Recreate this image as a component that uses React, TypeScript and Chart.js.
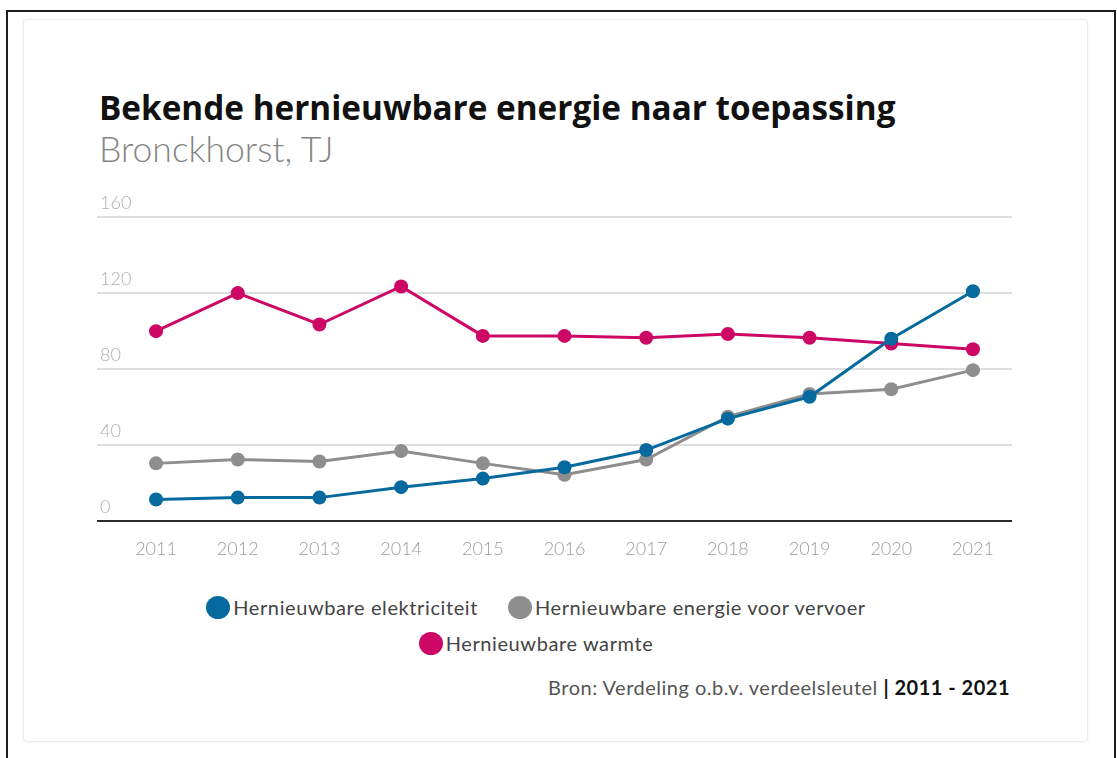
import React, { useEffect, useRef } from "react";
import { Chart, registerables } from "chart.js";

Chart.register(...registerables);

const years = [2011, 2012, 2013, 2014, 2015, 2016, 2017, 2018, 2019, 2020, 2021];
const elektriciteit = [11.5, 12.5, 12.5, 18, 22.5, 28.5, 37.5, 54, 65.5, 96, 121];
const vervoer = [30.5, 32.5, 31.5, 37, 30.5, 24.5, 32.5, 55, 67, 69.5, 79.5];
const warmte = [100, 120, 103.5, 123.5, 97.5, 97.5, 96.5, 98.5, 96.5, 93.5, 90.5];
const yTicks = [0, 40, 80, 120, 160];

const seriesNames = [
  "Hernieuwbare elektriciteit",
  "Hernieuwbare energie voor vervoer",
  "Hernieuwbare warmte",
];
const seriesColors = ["#066a9f", "#8e8e8e", "#cd0766"];

const FONT = "Lato, 'Liberation Sans', sans-serif";

export default function App() {
  const ref = useRef<HTMLCanvasElement | null>(null);

  useEffect(() => {
    document.documentElement.style.overflow = "hidden";
    document.body.style.overflow = "hidden";
    if (!ref.current) return;
    const seriesData = [elektriciteit, vervoer, warmte];
    const chart = new Chart(ref.current, {
      type: "line",
      data: {
        datasets: seriesData.map((vals, i) => ({
          label: seriesNames[i],
          data: vals.map((v, j) => ({ x: years[j], y: v })),
          borderColor: seriesColors[i],
          backgroundColor: seriesColors[i],
          pointBackgroundColor: seriesColors[i],
          pointBorderWidth: 0,
          pointRadius: 7,
          borderWidth: 3,
          tension: 0,
          order: i,
        })),
      },
      options: {
        animation: false,
        responsive: false,
        maintainAspectRatio: false,
        layout: { padding: { left: 1, right: 13, top: 37, bottom: 3 } },
        plugins: {
          legend: { display: false },
          tooltip: { enabled: false },
          title: { display: false },
        },
        scales: {
          x: {
            type: "linear",
            min: 2010.277,
            max: 2021.478,
            afterBuildTicks: (axis: any) => {
              axis.ticks = years.map((v) => ({ value: v }));
            },
            grid: { display: false, drawTicks: false },
            border: { display: false },
            ticks: {
              padding: 17,
              color: "#9c9c9c",
              font: { family: FONT, size: 18, weight: 300 as any },
              callback: (v: any) => String(v),
              maxRotation: 0,
              autoSkip: false,
            },
          },
          y: {
            min: 0,
            max: 160,
            afterBuildTicks: (axis: any) => {
              axis.ticks = yTicks.map((v) => ({ value: v }));
            },
            grid: {
              drawTicks: false,
              color: (c: any) => (c.tick && c.tick.value === 0 ? "#2b2b2b" : "#dedede"),
              lineWidth: 2,
            },
            border: { display: false },
            ticks: {
              mirror: true,
              padding: 3,
              labelOffset: -14,
              color: "#b0b0b0",
              font: { family: FONT, size: 18, weight: 300 as any },
            },
          },
        },
      },
    });
    return () => chart.destroy();
  }, []);

  const legendItem = (i: number) => (
    <div
      key={i}
      style={{ display: "flex", alignItems: "center", margin: "0 15px" }}
    >
      <div
        style={{
          width: 24,
          height: 23,
          borderRadius: "50%",
          background: seriesColors[i],
          marginRight: 3,
          flex: "none",
        }}
      />
      <div style={{ whiteSpace: "nowrap" }}>{seriesNames[i]}</div>
    </div>
  );

  const rowStyle: React.CSSProperties = {
    display: "flex",
    justifyContent: "center",
    alignItems: "center",
    height: 36,
  };

  return (
    <div style={{ position: "relative", width: 1100, height: 742, fontFamily: FONT }}>
      <div
        style={{
          position: "fixed",
          left: 6,
          top: 10,
          width: 1106,
          height: 760,
          borderTop: "2px solid #1e1e1e",
          borderLeft: "2px solid #1e1e1e",
          borderRight: "2px solid #1e1e1e",
          zIndex: 5,
          pointerEvents: "none",
        }}
      />
      <div
        style={{
          position: "absolute",
          left: 15,
          top: 11,
          width: 1063,
          height: 721,
          border: "1px solid #ececec",
          borderRadius: 4,
          boxShadow: "0 0 3px rgba(0,0,0,0.06)",
          background: "#fff",
        }}
      />
      <div
        style={{
          position: "absolute",
          left: 91,
          top: 79,
          fontFamily: "'Open Sans', sans-serif",
          fontSize: 33.3,
          fontWeight: 700,
          color: "#111",
          whiteSpace: "nowrap",
          lineHeight: "40px",
        }}
      >
        Bekende hernieuwbare energie naar toepassing
      </div>
      <div
        style={{
          position: "absolute",
          left: 91,
          top: 119,
          fontSize: 35.5,
          fontWeight: 300,
          color: "#858585",
          whiteSpace: "nowrap",
          lineHeight: "44px",
        }}
      >
        Bronckhorst, TJ
      </div>
      <canvas
        ref={ref}
        width={935}
        height={400}
        style={{ position: "absolute", left: 82, top: 172, width: 935, height: 400 }}
      />
      <div
        style={{
          position: "absolute",
          left: 0,
          width: 1056,
          top: 581,
          fontSize: 20,
          letterSpacing: 0.6,
          color: "#444",
        }}
      >
        <div style={rowStyle}>
          {legendItem(0)}
          {legendItem(1)}
        </div>
        <div style={rowStyle}>{legendItem(2)}</div>
      </div>
      <div
        style={{
          position: "absolute",
          right: 98,
          top: 666,
          fontSize: 20,
          letterSpacing: 0.5,
          color: "#555",
          whiteSpace: "nowrap",
          lineHeight: "26px",
        }}
      >
        Bron: Verdeling o.b.v. verdeelsleutel{" "}
        <span style={{ fontWeight: 700, color: "#111" }}>| 2011 - 2021</span>
      </div>
    </div>
  );
}
